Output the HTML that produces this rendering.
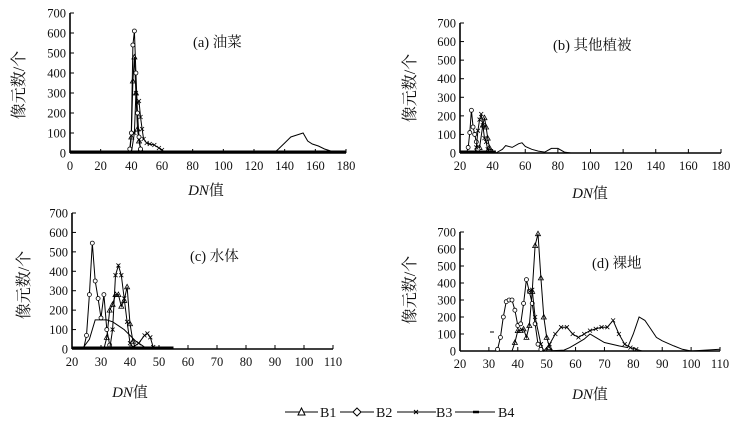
<!DOCTYPE html>
<html><head><meta charset="utf-8"><style>
body{margin:0;background:#fff;width:744px;height:429px;overflow:hidden}
svg{display:block}
text{font-family:"Liberation Serif","Noto Serif CJK SC",serif;fill:#111}
</style></head><body>
<svg id="s" width="744" height="429" xmlns="http://www.w3.org/2000/svg"></svg>
<script>
const S=document.getElementById('s');let h='';
function P(o){
 const {ax,ay0,ay7,x1,xmin,xmax,step,title,tx,ty,lx,ly,dx,dy,series,extra}=o;
 const X=v=>ax+(v-xmin)/(xmax-xmin)*(x1-ax), Y=v=>ay0-(v/700)*(ay0-ay7);
 h+=`<line x1="${ax}" y1="${ay7}" x2="${ax}" y2="${ay0}" stroke="#000" stroke-width="1.6"/>`;
 h+=`<line x1="${ax}" y1="${ay0}" x2="${x1}" y2="${ay0}" stroke="#000" stroke-width="1.6"/>`;
 for(let v=0;v<=700;v+=100){const y=Y(v);h+=`<line x1="${ax}" y1="${y}" x2="${ax+4}" y2="${y}" stroke="#000"/><text x="${ax-4}" y="${y+4.5}" font-size="12.5" text-anchor="end">${v}</text>`;}
 for(let v=xmin;v<=xmax+0.01;v+=step){const x=X(v);h+=`<line x1="${x}" y1="${ay0}" x2="${x}" y2="${ay0-4}" stroke="#000"/><text x="${x}" y="${ay0+17}" font-size="12.5" text-anchor="middle">${v}</text>`;}
 h+=`<text x="${tx}" y="${ty}" font-size="14.5">${title}</text>`;
 h+=`<text x="${dx}" y="${dy}" font-size="15" text-anchor="middle"><tspan font-style="italic">DN</tspan>值</text>`;
 h+=`<text transform="translate(${lx},${ly}) rotate(-90)" font-size="16" text-anchor="middle">像元数/个</text>`;
 series.forEach((s,i)=>{const pts=s.map(p=>X(p[0]).toFixed(1)+','+Y(p[1]).toFixed(1)).join(' ');
  h+=`<polyline points="${pts}" fill="none" stroke="#000" stroke-width="1"/>`;
  s.forEach(p=>{if(p[1]<5)return;const x=X(p[0]),y=Y(p[1]);
   if(i==0)h+=`<path d="M${x-2.5},${y+2} L${x+2.5},${y+2} L${x},${y-2.5}Z" fill="none" stroke="#000" stroke-width=".8"/>`;
   else if(i==1)h+=`<circle cx="${x}" cy="${y}" r="2" fill="#fff" stroke="#000" stroke-width=".8"/>`;
   else if(i==2)h+=`<path d="M${x-2},${y-2}L${x+2},${y+2}M${x-2},${y+2}L${x+2},${y-2}" stroke="#000" stroke-width=".8"/>`;});
 });
 h+=`<line x1="${ax}" y1="${ay0-1}" x2="${X(extra)}" y2="${ay0-1}" stroke="#000" stroke-width="3"/>`;
}
P({ax:70,ay0:153,ay7:13,x1:346,xmin:0,xmax:180,step:20,title:"(a) 油菜",tx:193,ty:47,lx:24,ly:85,dx:206,dy:195,extra:180,series:[
 [[36,0],[39,10],[40,80],[41,360],[42,480],[43,300],[44,120],[45,60],[46,20],[48,0]],
 [[37,0],[39,20],[40,100],[41,540],[42,610],[43,400],[44,200],[45,80],[46,20],[47,0]],
 [[40,0],[42,100],[43,300],[44,250],[45,260],[46,180],[47,120],[48,70],[50,50],[52,45],[55,40],[58,25],[60,15],[63,0]],
 [[133,0],[136,20],[140,50],[144,80],[148,90],[152,100],[155,60],[158,45],[162,35],[166,20],[170,10],[172,0]]]});
P({ax:460,ay0:153,ay7:23,x1:721,xmin:20,xmax:180,step:20,title:"(b) 其他植被",tx:553,ty:50,lx:415,ly:88,dx:590,dy:198,extra:42,series:[
 [[30,0],[32,30],[34,150],[35,190],[36,140],[37,80],[38,30],[40,0]],
 [[24,0],[25,30],[26,110],[27,230],[28,140],[29,100],[30,60],[31,20],[32,0]],
 [[29,0],[30,30],[31,120],[32,180],[33,210],[34,150],[35,80],[36,60],[37,20],[39,0]],
 [[42,0],[46,20],[48,40],[52,30],[56,50],[58,55],[60,35],[64,20],[68,10],[72,5],[76,25],[80,25],[84,5],[88,0]]]});
P({ax:72,ay0:349,ay7:213,x1:333,xmin:20,xmax:110,step:10,title:"(c) 水体",tx:190,ty:261,lx:29,ly:285,dx:130,dy:397,extra:55,series:[
 [[31,0],[32,60],[33,200],[34,230],[35,280],[36,280],[37,220],[38,250],[39,320],[40,130],[41,40],[42,0]],
 [[24,0],[25,70],[26,280],[27,545],[28,350],[29,260],[30,160],[31,280],[32,100],[33,20],[34,0]],
 [[33,0],[34,100],[35,380],[36,430],[37,380],[38,260],[39,140],[40,30],[41,10],[43,30],[45,70],[46,80],[47,60],[48,10],[50,0]],
 [[22,0],[24,10],[26,50],[28,150],[30,150],[32,150],[34,140],[36,120],[38,100],[40,70],[42,40],[44,20],[46,0]]]});
P({ax:460,ay0:351,ay7:232,x1:720,xmin:20,xmax:110,step:10,title:"(d) 裸地",tx:592,ty:268,lx:415,ly:290,dx:590,dy:399,extra:20,series:[
 [[38,0],[39,50],[40,120],[41,120],[42,130],[43,80],[44,150],[45,350],[46,620],[47,690],[48,430],[49,200],[50,80],[51,20],[52,0]],
 [[33,10],[34,80],[35,200],[36,290],[37,300],[38,300],[39,240],[40,150],[41,160],[42,280],[43,420],[44,350],[45,280],[46,160],[47,40],[48,10],[49,0]],
 [[44,350],[45,360],[46,200],[48,40],[49,0],[51,40],[53,100],[55,140],[57,140],[59,100],[61,80],[63,100],[65,120],[67,130],[69,140],[71,140],[73,180],[75,100],[77,40],[79,20],[81,10],[83,0],[86,0]],
 [[50,0],[56,5],[58,20],[60,40],[63,70],[65,100],[67,80],[70,50],[75,30],[78,20],[80,100],[82,200],[84,180],[86,130],[88,80],[90,60],[94,30],[97,10],[100,0],[110,10]]]});
h+=`<line x1="490" y1="332" x2="494" y2="332" stroke="#000"/>`;
const ly=412;
h+=`<line x1="285" y1="${ly}" x2="318" y2="${ly}" stroke="#000"/><path d="M298,${ly+3}L305,${ly+3}L301.5,${ly-4}Z" fill="#fff" stroke="#000"/><text x="320" y="${ly+5}" font-size="14">B1</text>`;
h+=`<line x1="340" y1="${ly}" x2="374" y2="${ly}" stroke="#000"/><path d="M357,${ly-4}L361,${ly}L357,${ly+4}L353,${ly}Z" fill="#fff" stroke="#000"/><text x="376" y="${ly+5}" font-size="14">B2</text>`;
h+=`<line x1="397" y1="${ly}" x2="436" y2="${ly}" stroke="#000"/><path d="M414,${ly-2}L418,${ly+2}M414,${ly+2}L418,${ly-2}" stroke="#000"/><text x="436" y="${ly+5}" font-size="14">B3</text>`;
h+=`<line x1="455" y1="${ly}" x2="495" y2="${ly}" stroke="#000"/><line x1="473" y1="${ly}" x2="479" y2="${ly}" stroke="#000" stroke-width="2.5"/><text x="498" y="${ly+5}" font-size="14">B4</text>`;
S.innerHTML=h;
</script>
</body></html>
